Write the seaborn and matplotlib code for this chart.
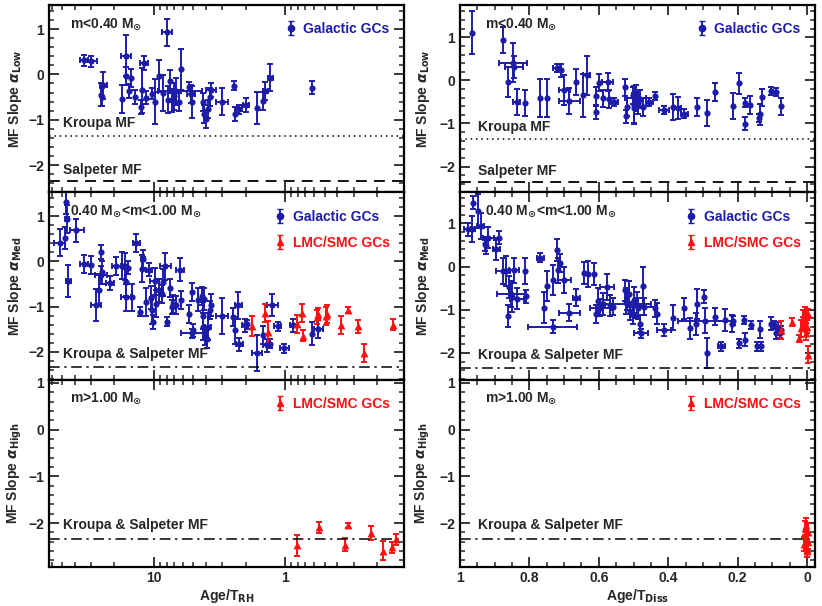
import numpy as np
import seaborn as sns
import matplotlib.pyplot as plt
from matplotlib.ticker import MultipleLocator, FixedLocator, LogLocator, FuncFormatter, NullFormatter

# ---- top row: m < 0.40 Msun (Galactic GCs) ----
low_rh_x = [34.2, 30.4, 25.5, 24.9, 24.4, 17.5, 16.4, 16.2, 15.6, 15.0, 13.9, 12.6, 12.4, 11.9,
            11.4, 10.3, 9.77, 9.16, 8.49, 8.00, 7.78, 7.47, 7.21, 7.04, 6.79, 6.44, 6.26, 5.41,
            5.22, 5.13, 4.25, 4.15, 4.03, 3.85, 3.74, 3.67, 3.03, 2.44, 2.41, 2.23, 1.99, 1.65,
            1.46, 1.41, 1.30, 0.625]
low_rh_y = [0.31, 0.29, -0.45, -0.50, -0.24, -0.54, 0.41, -0.04, -0.37, -0.07, -0.50, -0.72, -0.35, 0.25,
            -0.51, -0.43, -0.60, -0.04, -0.41, 0.93, -0.56, -0.15, -0.57, -0.48, -0.37, -0.61, 0.11, -0.27,
            -0.43, -0.60, -0.61, -0.87, -0.99, -0.77, -0.50, -0.35, -0.60, -0.25, -0.87, -0.77, -0.68, -0.74,
            -0.59, -0.37, -0.07, -0.29]
low_rh_yerr = [0.12, 0.12, 0.25, 0.20, 0.30, 0.30, 0.45, 0.20, 0.15, 0.20, 0.15, 0.15, 0.50, 0.15,
               0.15, 0.12, 0.50, 0.35, 0.40, 0.30, 0.30, 0.25, 0.25, 0.30, 0.30, 0.20, 0.45, 0.10,
               0.20, 0.35, 0.20, 0.20, 0.20, 0.20, 0.20, 0.15, 0.30, 0.10, 0.15, 0.10, 0.15, 0.35,
               0.20, 0.20, 0.30, 0.15]
low_rh_xerr = [2.5, 3.5, 0, 0, 1.5, 0, 1.5, 0, 0, 0, 0, 0, 0, 0.8,
               0, 0, 0, 0, 0, 0.7, 0, 0, 0, 0, 2.5, 0, 0, 0,
               0.4, 0, 0, 0, 0, 0, 0, 0.3, 0.3, 0, 0, 0.12, 0.1, 0,
               0, 0.07, 0.06, 0]

low_ds_x = [0.965, 0.875, 0.848, 0.845, 0.862, 0.837, 0.812, 0.769, 0.750, 0.721, 0.709, 0.699, 0.685, 0.665,
            0.646, 0.635, 0.609, 0.609, 0.600, 0.588, 0.575, 0.571, 0.556, 0.524, 0.522, 0.519, 0.502, 0.500,
            0.498, 0.494, 0.487, 0.481, 0.474, 0.439, 0.454, 0.413, 0.385, 0.372, 0.354, 0.317, 0.288, 0.264,
            0.212, 0.195, 0.180, 0.178, 0.163, 0.139, 0.135, 0.131, 0.103, 0.088, 0.074]
low_ds_y = [1.11, 0.93, 0.41, 0.31, -0.04, -0.50, -0.53, -0.41, -0.41, 0.29, 0.24, -0.23, -0.47, -0.04,
            -0.35, 0.12, -0.74, -0.36, -0.05, -0.42, -0.04, -0.43, -0.50, -0.16, -0.83, -0.62, -0.35, -0.57,
            -0.65, -0.40, -0.52, -0.43, -0.62, -0.36, -0.50, -0.69, -0.62, -0.64, -0.77, -0.62, -0.75, -0.27,
            -0.60, -0.07, -0.52, -1.01, -0.57, -0.87, -0.79, -0.39, -0.25, -0.27, -0.60]
low_ds_yerr = [0.50, 0.30, 0.45, 0.25, 0.35, 0.30, 0.30, 0.45, 0.45, 0.10, 0.15, 0.35, 0.30, 0.30,
               0.50, 0.45, 0.15, 0.20, 0.20, 0.20, 0.20, 0.20, 0.10, 0.20, 0.15, 0.20, 0.20, 0.45,
               0.35, 0.30, 0.25, 0.20, 0.20, 0.10, 0.10, 0.10, 0.30, 0.25, 0.10, 0.20, 0.30, 0.20,
               0.30, 0.25, 0.10, 0.15, 0.20, 0.10, 0.25, 0.20, 0.10, 0.10, 0.20]
low_ds_xerr = [0, 0, 0.04, 0.025, 0, 0.01, 0, 0, 0, 0.01, 0, 0.015, 0.03, 0,
               0, 0.01, 0, 0, 0, 0, 0.015, 0, 0.01, 0, 0, 0, 0, 0,
               0, 0.03, 0, 0, 0, 0, 0.01, 0.015, 0, 0.01, 0.01, 0, 0, 0,
               0, 0, 0, 0, 0, 0, 0, 0, 0, 0, 0]

# ---- middle row: 0.40 < m < 1.00 Msun ----
med_rh_x = [52.3, 47.8, 46.4, 45.9, 44.8, 38.9, 34.2, 30.4, 27.7, 26.1, 25.4, 25.1, 24.8, 21.7,
            19.3, 17.5, 16.6, 16.2, 15.7, 16.4, 14.8, 13.6, 12.8, 12.4, 12.1, 11.4, 10.9, 10.6,
            10.4, 10.2, 9.88, 9.55, 9.10, 8.74, 8.49, 8.24, 8.00, 7.55, 7.33, 7.12, 6.83, 6.34,
            6.23, 5.41, 5.16, 5.16, 5.01, 4.64, 4.33, 4.25, 4.20, 4.15, 4.08, 3.96, 3.85, 3.74,
            3.69, 3.04, 2.48, 2.41, 2.27, 2.23, 2.02, 1.94, 1.64, 1.46, 1.38, 1.26, 1.30, 1.14,
            1.01, 0.863, 0.625, 0.557]
med_rh_y = [0.41, 0.52, 1.31, 0.94, -0.44, 0.69, -0.05, -0.07, -0.96, -0.64, -0.31, 0.21, -0.24, -0.48,
            -0.11, -0.10, -0.11, -0.46, -0.14, -0.79, -0.79, 0.41, -1.11, -0.16, 0.06, -0.90, -0.18, -0.80,
            -1.08, -1.34, -0.44, -0.94, -0.64, -0.72, -0.46, -0.11, -1.34, -0.58, -1.01, -0.94, -0.97, -0.18,
            -0.85, -1.17, -0.68, -1.59, -1.53, -0.85, -0.77, -1.20, -1.45, -0.83, -1.66, -1.71, -1.45, -1.08,
            -0.97, -1.20, -1.23, -1.53, -0.97, -1.84, -1.42, -1.39, -2.02, -1.64, -1.86, -0.97, -1.82, -1.44,
            -1.92, -1.42, -1.60, -1.50]
med_rh_yerr = [0.30, 0.25, 0.25, 0.30, 0.35, 0.25, 0.20, 0.20, 0.35, 0.35, 0.20, 0.15, 0.25, 0.15,
               0.20, 0.30, 0.30, 0.30, 0.15, 0.30, 0.30, 0.20, 0.10, 0.30, 0.20, 0.30, 0.15, 0.25,
               0.30, 0.15, 0.30, 0.30, 0.25, 0.20, 0.30, 0.30, 0.10, 0.20, 0.15, 0.20, 0.20, 0.25,
               0.20, 0.20, 0.20, 0.10, 0.15, 0.25, 0.20, 0.30, 0.30, 0.25, 0.20, 0.20, 0.30, 0.20,
               0.25, 0.40, 0.20, 0.30, 0.30, 0.15, 0.15, 0.10, 0.40, 0.20, 0.15, 0.25, 0.10, 0.10,
               0.10, 0.15, 0.25, 0.20]
med_rh_xerr = [5, 0, 0, 1.5, 2, 5, 2.5, 0, 2.5, 0, 2.5, 0, 0, 1.5,
               1.5, 0, 0, 0, 0, 1.5, 0, 0.8, 0, 0, 0.5, 0, 0.6, 0,
               0, 0, 0.8, 0, 0.6, 0, 0, 0.8, 0, 0, 0, 0, 0, 0.4,
               0, 0, 0, 1.0, 0, 0, 0, 0, 0, 0, 0, 0, 0.2, 0,
               0, 0.3, 0, 0, 0.15, 0.15, 0.1, 0, 0.15, 0, 0.08, 0.12, 0, 0.07,
               0.08, 0.06, 0, 0.04]
med_rh_lmc_x = [1.80, 1.41, 1.34, 0.814, 0.746, 0.733, 0.573, 0.557, 0.486, 0.475, 0.376, 0.334, 0.279,
                0.252, 0.151]
med_rh_lmc_y = [-1.44, -1.14, -1.56, -1.38, -1.14, -1.65, -1.23, -1.16, -1.20, -1.16, -1.40, -1.08, -1.44,
                -2.03, -1.40]
med_rh_lmc_yerr = [0.22, 0.20, 0.25, 0.20, 0.20, 0.12, 0.15, 0.12, 0.20, 0.20, 0.20, 0.06, 0.15, 0.20, 0.13]

med_ds_x = [0.978, 0.966, 0.962, 0.947, 0.940, 0.928, 0.925, 0.918, 0.896, 0.889, 0.875, 0.867, 0.863, 0.858,
            0.854, 0.851, 0.844, 0.837, 0.812, 0.810, 0.769, 0.758, 0.750, 0.733, 0.733, 0.721, 0.718, 0.713,
            0.699, 0.685, 0.665, 0.644, 0.632, 0.615, 0.609, 0.601, 0.596, 0.587, 0.577, 0.569, 0.558, 0.526,
            0.522, 0.519, 0.514, 0.510, 0.502, 0.498, 0.490, 0.486, 0.481, 0.478, 0.473, 0.471, 0.438, 0.433,
            0.413, 0.385, 0.354, 0.337, 0.319, 0.317, 0.298, 0.293, 0.288, 0.264, 0.247, 0.236, 0.216, 0.212,
            0.197, 0.183, 0.178, 0.162, 0.144, 0.135, 0.133, 0.103, 0.096, 0.088, 0.084, 0.077, 0.074]
med_ds_y = [0.86, 0.88, 1.48, 1.29, 0.94, 0.52, 0.48, 0.67, 0.41, 0.67, -0.11, -0.11, -1.15, -0.47,
            -0.63, -0.70, -0.09, -0.74, -0.11, -0.69, 0.21, -0.95, -0.45, -1.39, -0.31, 0.38, -0.09, 0.08,
            -0.31, -1.07, -0.72, -0.15, -0.17, -0.17, -1.10, -0.80, -0.95, -0.87, -0.47, -0.90, -0.93, -0.55,
            -0.80, -0.86, -0.63, -1.03, -1.12, -0.78, -0.90, -0.97, -1.32, -1.55, -0.46, -0.93, -0.97, -1.09,
            -1.47, -1.18, -0.97, -1.43, -1.33, -0.86, -0.70, -1.25, -2.00, -1.16, -1.85, -1.24, -1.32, -1.25,
            -1.78, -1.24, -1.70, -1.35, -1.85, -1.45, -1.85, -1.32, -1.35, -1.53, -1.43, -1.55, -1.47]
med_ds_yerr = [0.15, 0.30, 0.15, 0.40, 0.30, 0.15, 0.20, 0.25, 0.25, 0.15, 0.30, 0.35, 0.25, 0.25,
               0.30, 0.35, 0.30, 0.25, 0.30, 0.15, 0.10, 0.35, 0.35, 0.15, 0.35, 0.25, 0.30, 0.20,
               0.30, 0.20, 0.20, 0.25, 0.30, 0.25, 0.20, 0.30, 0.20, 0.25, 0.30, 0.25, 0.20, 0.25,
               0.30, 0.15, 0.30, 0.20, 0.20, 0.30, 0.30, 0.25, 0.20, 0.10, 0.45, 0.20, 0.20, 0.25,
               0.15, 0.30, 0.25, 0.25, 0.25, 0.35, 0.15, 0.30, 0.35, 0.20, 0.10, 0.25, 0.20, 0.10,
               0.10, 0.10, 0.15, 0.10, 0.10, 0.20, 0.10, 0.15, 0.10, 0.15, 0.15, 0.10, 0.10]
med_ds_xerr = [0.01, 0.01, 0, 0, 0.01, 0, 0, 0.015, 0.01, 0, 0.02, 0, 0, 0,
               0.04, 0, 0.015, 0.02, 0, 0, 0.01, 0, 0, 0.07, 0, 0, 0, 0,
               0.02, 0.03, 0.01, 0, 0, 0, 0, 0, 0.03, 0, 0.02, 0, 0, 0,
               0, 0.07, 0, 0, 0, 0, 0, 0, 0, 0.02, 0, 0.04, 0, 0,
               0.02, 0, 0, 0, 0, 0, 0, 0.08, 0, 0, 0.01, 0, 0, 0,
               0, 0, 0, 0, 0, 0, 0, 0, 0, 0, 0, 0, 0]
med_ds_lmc_x = [0.074, 0.043, 0.022, 0.017, 0.012, 0.010, 0.007, 0.005, 0.002, 0.000, -0.002, -0.003,
                0.003, 0.013]
med_ds_lmc_y = [-1.47, -1.28, -1.66, -1.43, -1.16, -1.32, -1.01, -1.24, -1.15, -1.39, -2.04, -1.09,
                -1.55, -1.32]
med_ds_lmc_yerr = [0.20, 0.10, 0.08, 0.20, 0.15, 0.15, 0.08, 0.15, 0.15, 0.15, 0.20, 0.10, 0.15, 0.15]

# ---- bottom row: m > 1.00 Msun (LMC/SMC GCs) ----
high_rh_x = [0.805, 0.547, 0.352, 0.329, 0.222, 0.178, 0.152, 0.143]
high_rh_y = [-2.48, -2.09, -2.46, -2.05, -2.22, -2.59, -2.52, -2.35]
high_rh_yerr = [0.22, 0.12, 0.13, 0.05, 0.15, 0.20, 0.12, 0.12]

high_ds_x = [0.008, 0.005, 0.002, 0.000, -0.002, -0.003, 0.004, 0.001]
high_ds_y = [-2.45, -2.10, -2.30, -2.55, -2.20, -2.40, -2.05, -2.60]
high_ds_yerr = [0.15, 0.15, 0.15, 0.12, 0.20, 0.15, 0.15, 0.12]

BLUE = '#1c1ca8'
RED = '#ff1010'
FS = 10

sns.set_theme(style='ticks')
plt.rcParams['font.family'] = ['Liberation Sans', 'DejaVu Sans']
plt.rcParams['font.weight'] = 'bold'
plt.rcParams['axes.labelweight'] = 'bold'


def DrawPoints(ax, x, y, yerr, xerr, color, marker, size):

    """Draws the markers with seaborn and the error bars underneath."""

    ax.errorbar(x, y, yerr=yerr, xerr=xerr, fmt='none', ecolor=color,
                elinewidth=1.4, capsize=2.2, capthick=1.4, zorder=2)
    sns.scatterplot(x=x, y=y, ax=ax, color=color, marker=marker, s=size,
                    linewidth=0, legend=False, zorder=3)


def AddLegend(ax, lmc=False, galactic=True):

    """Legend with errorbar symbols and coloured labels."""

    handles, colors = [], []
    if galactic:
        h = ax.errorbar([np.nan], [np.nan], yerr=[0.1], fmt='o', color=BLUE, ms=4.5,
                        capsize=2, elinewidth=1.4, label='Galactic GCs')
        handles.append(h)
        colors.append(BLUE)
    if lmc:
        h = ax.errorbar([np.nan], [np.nan], yerr=[0.1], fmt='^', color=RED, ms=5,
                        capsize=2, elinewidth=1.4, label='LMC/SMC GCs')
        handles.append(h)
        colors.append(RED)
    ax.legend(handles=handles, loc='upper right', bbox_to_anchor=(0.995, 0.975),
              frameon=False, labelcolor=colors, handlelength=0.6, handletextpad=0.6,
              labelspacing=0.9, prop={'weight': 'bold', 'size': FS})


def StyleAxis(ax, ylim):

    """Inward ticks on all four sides, thick frame."""

    ax.set_ylim(*ylim)
    ax.yaxis.set_major_locator(MultipleLocator(1))
    ax.yaxis.set_minor_locator(MultipleLocator(0.2))
    ax.tick_params(which='both', direction='in', top=True, right=True, labelsize=FS)
    ax.tick_params(which='major', length=7, width=1.3)
    ax.tick_params(which='minor', length=3.5, width=1.1)
    ax.tick_params(axis='x', which='major', pad=3)
    for s in ax.spines.values():
        s.set_linewidth(1.6)
        s.set_color('black')


fig, axes = plt.subplots(3, 2, figsize=(8.22, 6.06), dpi=100, sharex='col')
fig.subplots_adjust(left=0.0596, right=0.9915, top=0.9917, bottom=0.0644, wspace=0.158, hspace=0)

ylims = {(0, 0): (-2.6, 1.53), (0, 1): (-2.6, 1.75),
         (1, 0): (-2.62, 1.53), (1, 1): (-2.62, 1.72),
         (2, 0): (-2.94, 1.07), (2, 1): (-2.94, 1.07)}
ylabels = [r'MF Slope $\alpha_{\rm Low}$', r'MF Slope $\alpha_{\rm Med}$', r'MF Slope $\alpha_{\rm High}$']
titles = [r'm<0.40 M$_{\odot}$', r'0.40 M$_{\odot}$<m<1.00 M$_{\odot}$', r'm>1.00 M$_{\odot}$']

# data
DrawPoints(axes[0, 0], low_rh_x, low_rh_y, low_rh_yerr, low_rh_xerr, BLUE, 'o', 20)
DrawPoints(axes[0, 1], low_ds_x, low_ds_y, low_ds_yerr, low_ds_xerr, BLUE, 'o', 20)
DrawPoints(axes[1, 0], med_rh_x, med_rh_y, med_rh_yerr, med_rh_xerr, BLUE, 'o', 20)
DrawPoints(axes[1, 0], med_rh_lmc_x, med_rh_lmc_y, med_rh_lmc_yerr, None, RED, '^', 32)
DrawPoints(axes[1, 1], med_ds_x, med_ds_y, med_ds_yerr, med_ds_xerr, BLUE, 'o', 20)
DrawPoints(axes[1, 1], med_ds_lmc_x, med_ds_lmc_y, med_ds_lmc_yerr, None, RED, '^', 32)
DrawPoints(axes[2, 0], high_rh_x, high_rh_y, high_rh_yerr, None, RED, '^', 32)
DrawPoints(axes[2, 1], high_ds_x, high_ds_y, high_ds_yerr, None, RED, '^', 32)

for col in range(2):
    AddLegend(axes[0, col])
    AddLegend(axes[1, col], lmc=True)
    AddLegend(axes[2, col], lmc=True, galactic=False)

for row in range(3):
    for col in range(2):
        ax = axes[row, col]
        StyleAxis(ax, ylims[(row, col)])
        ax.set_ylabel(ylabels[row], fontsize=FS, labelpad=3 if col == 0 else 5)
        tx = 0.06 if col == 0 else 0.07
        ax.text(tx, 0.9, titles[row], transform=ax.transAxes, fontsize=FS,
                ha='left', va='center', fontweight='bold')
        trans = ax.get_yaxis_transform()
        lx = 0.04 if col == 0 else 0.05
        if row == 0:
            ax.axhline(-1.35, color='black', ls=(0, (1, 2.5)), lw=1.1)
            ax.axhline(-2.35, color='black', ls=(0, (6, 4)), lw=1.3)
            ax.text(lx, -1.08, 'Kroupa MF', transform=trans, fontsize=FS, va='center')
            ax.text(lx, -2.1, 'Salpeter MF', transform=trans, fontsize=FS, va='center')
        else:
            ax.axhline(-2.35, color='black', ls=(0, (7, 3, 1.5, 3)), lw=1.1)
            ax.text(lx, -2.05, 'Kroupa & Salpeter MF', transform=trans, fontsize=FS, va='center')

# left column: log Age/T_RH, reversed
axl = axes[2, 0]
axl.set_xscale('log')
axl.set_xlim(63, 0.124)
for ax in axes[:, 0]:
    ax.xaxis.set_major_locator(FixedLocator([10, 1]))
    ax.xaxis.set_minor_locator(LogLocator(base=10, subs=range(2, 10)))
    ax.xaxis.set_major_formatter(FuncFormatter(lambda v, p: f'{v:g}'))
    ax.xaxis.set_minor_formatter(NullFormatter())
axl.set_xlabel(r'Age/T$_{\rm RH}$', fontsize=FS, labelpad=1)

# right column: linear Age/T_Diss, reversed
axr = axes[2, 1]
axr.set_xlim(1.0, -0.023)
for ax in axes[:, 1]:
    ax.xaxis.set_major_locator(MultipleLocator(0.2))
    ax.xaxis.set_minor_locator(MultipleLocator(0.05))
    ax.xaxis.set_major_formatter(FuncFormatter(lambda v, p: f'{abs(v):g}' if abs(v) < 1e-9 else f'{v:g}'))
axr.set_xlabel(r'Age/T$_{\rm Diss}$', fontsize=FS, labelpad=1)

fig.savefig('out.png', dpi=100)
